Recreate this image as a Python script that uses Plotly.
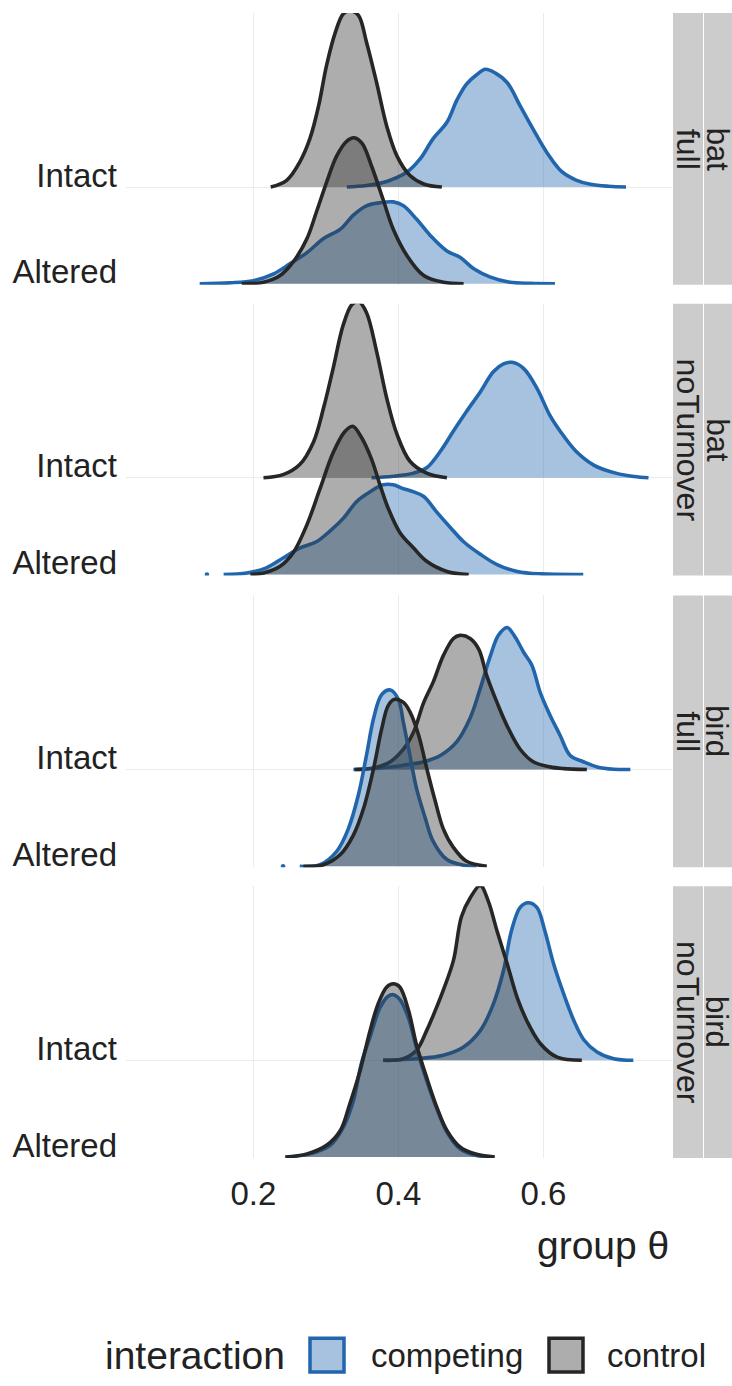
import plotly.graph_objects as go

# ---------------- data ----------------
facets = [("bat", "full"), ("bat", "noTurnover"), ("bird", "full"), ("bird", "noTurnover")]
row_labels = ["Altered", "Intact"]
groups = ["competing", "control"]
x_ticks = [0.2, 0.4, 0.6]
x_tick_text = ["0.2", "0.4", "0.6"]

# bat / full
bat_full_intact_competing_x = [0.329, 0.356, 0.384, 0.412, 0.430, 0.448, 0.467, 0.481, 0.494, 0.508, 0.520, 0.534, 0.550, 0.568, 0.586, 0.605, 0.625, 0.645, 0.665, 0.690, 0.714]
bat_full_intact_competing_d = [0, 0.1, 0.36, 0.96, 1.8, 3.1, 4.15, 5.6, 6.6, 7.2, 7.55, 7.3, 6.7, 5.2, 3.7, 2.2, 1.0, 0.45, 0.18, 0.05, 0]
bat_full_intact_control_x = [0.224, 0.246, 0.264, 0.278, 0.290, 0.301, 0.313, 0.324, 0.334, 0.345, 0.356, 0.370, 0.384, 0.398, 0.416, 0.435, 0.460]
bat_full_intact_control_d = [0, 0.43, 1.6, 3.1, 5.2, 7.8, 9.9, 11.1, 11.3, 11.0, 9.3, 6.7, 3.9, 2.0, 0.74, 0.2, 0]
bat_full_altered_competing_x = [0.126, 0.168, 0.200, 0.228, 0.251, 0.274, 0.297, 0.320, 0.338, 0.356, 0.375, 0.393, 0.407, 0.425, 0.444, 0.467, 0.485, 0.504, 0.527, 0.554, 0.582, 0.616]
bat_full_altered_competing_d = [0, 0.06, 0.2, 0.64, 1.3, 2.0, 2.9, 3.5, 4.4, 5.0, 5.2, 5.25, 5.0, 4.15, 3.1, 2.1, 1.7, 0.96, 0.43, 0.1, 0.03, 0]
bat_full_altered_control_x = [0.184, 0.214, 0.237, 0.255, 0.274, 0.287, 0.301, 0.315, 0.329, 0.339, 0.350, 0.363, 0.379, 0.393, 0.412, 0.435, 0.462, 0.490]
bat_full_altered_control_d = [0, 0.1, 0.53, 1.4, 2.9, 4.6, 6.5, 8.2, 9.15, 9.36, 9.0, 7.55, 5.4, 3.5, 1.8, 0.53, 0.1, 0]

# bat / noTurnover
bat_noT_intact_competing_x = [0.363, 0.393, 0.421, 0.439, 0.458, 0.476, 0.494, 0.513, 0.531, 0.545, 0.557, 0.573, 0.591, 0.609, 0.623, 0.645, 0.670, 0.700, 0.725, 0.745]
bat_noT_intact_competing_d = [0, 0.1, 0.3, 0.64, 1.7, 3.0, 4.25, 5.5, 6.8, 7.3, 7.4, 7.0, 5.75, 4.0, 3.0, 1.7, 0.8, 0.3, 0.08, 0]
bat_noT_intact_control_x = [0.214, 0.241, 0.264, 0.283, 0.297, 0.310, 0.324, 0.336, 0.345, 0.356, 0.370, 0.384, 0.398, 0.416, 0.439, 0.467]
bat_noT_intact_control_d = [0, 0.2, 0.85, 2.3, 4.5, 7.0, 9.8, 11.1, 11.3, 10.6, 8.1, 5.1, 2.8, 1.06, 0.3, 0]
bat_noT_altered_competing_x = [0.159, 0.191, 0.218, 0.241, 0.264, 0.287, 0.306, 0.324, 0.343, 0.361, 0.379, 0.393, 0.407, 0.421, 0.435, 0.453, 0.472, 0.490, 0.513, 0.536, 0.564, 0.596, 0.655]
bat_noT_altered_competing_d = [0, 0.1, 0.43, 1.06, 1.7, 2.1, 2.8, 3.6, 4.7, 5.3, 5.75, 5.75, 5.5, 5.3, 5.0, 4.0, 3.0, 2.1, 1.3, 0.64, 0.2, 0.04, 0]
bat_noT_altered_control_x = [0.196, 0.214, 0.237, 0.255, 0.274, 0.292, 0.310, 0.326, 0.337, 0.349, 0.363, 0.375, 0.386, 0.402, 0.421, 0.439, 0.467, 0.497]
bat_noT_altered_control_d = [0, 0.1, 0.53, 1.4, 3.2, 5.5, 7.8, 9.15, 9.5, 8.8, 7.4, 5.7, 4.25, 2.7, 1.7, 0.85, 0.2, 0]

# bird / full
bird_full_intact_competing_x = [0.338, 0.375, 0.407, 0.435, 0.458, 0.481, 0.499, 0.513, 0.527, 0.538, 0.550, 0.561, 0.573, 0.584, 0.596, 0.609, 0.623, 0.637, 0.655, 0.674, 0.697, 0.720]
bird_full_intact_competing_d = [0, 0.1, 0.28, 0.5, 0.9, 1.8, 3.3, 5.2, 7.3, 8.6, 9.1, 8.5, 7.5, 6.7, 4.9, 3.5, 2.2, 0.9, 0.5, 0.17, 0.02, 0]
bird_full_intact_control_x = [0.340, 0.366, 0.389, 0.407, 0.421, 0.435, 0.448, 0.462, 0.476, 0.485, 0.499, 0.511, 0.522, 0.536, 0.550, 0.568, 0.586, 0.609, 0.628, 0.660]
bird_full_intact_control_d = [0, 0.1, 0.5, 1.3, 2.4, 4.3, 5.6, 7.3, 8.4, 8.6, 8.4, 7.7, 6.0, 4.3, 2.8, 1.3, 0.5, 0.17, 0.06, 0]
bird_full_altered_competing_x = [0.264, 0.292, 0.315, 0.331, 0.345, 0.356, 0.366, 0.377, 0.389, 0.400, 0.407, 0.416, 0.425, 0.437, 0.448, 0.467, 0.490, 0.508]
bird_full_altered_competing_d = [0, 0.1, 0.96, 2.4, 4.6, 7.1, 9.5, 11.0, 11.3, 10.7, 9.2, 7.1, 5.0, 3.1, 1.6, 0.43, 0.06, 0]
bird_full_altered_control_x = [0.269, 0.297, 0.320, 0.338, 0.352, 0.366, 0.377, 0.386, 0.395, 0.407, 0.416, 0.428, 0.439, 0.451, 0.462, 0.476, 0.494, 0.522]
bird_full_altered_control_d = [0, 0.1, 0.75, 2.0, 3.7, 6.3, 8.8, 10.3, 10.7, 10.5, 9.9, 8.4, 6.3, 4.15, 2.4, 1.2, 0.32, 0]

# bird / noTurnover
bird_noT_intact_competing_x = [0.379, 0.425, 0.462, 0.490, 0.513, 0.531, 0.545, 0.556, 0.568, 0.579, 0.591, 0.602, 0.614, 0.628, 0.642, 0.656, 0.674, 0.697, 0.724]
bird_noT_intact_competing_d = [0, 0.1, 0.32, 0.85, 1.9, 3.6, 5.75, 8.3, 9.8, 10.1, 9.8, 8.3, 6.2, 4.25, 2.55, 1.3, 0.53, 0.1, 0]
bird_noT_intact_control_x = [0.379, 0.407, 0.425, 0.439, 0.451, 0.462, 0.476, 0.487, 0.499, 0.513, 0.524, 0.536, 0.550, 0.564, 0.577, 0.596, 0.619, 0.653]
bird_noT_intact_control_d = [0, 0.1, 0.64, 1.9, 3.2, 4.5, 6.4, 9.2, 10.4, 11.2, 10.2, 8.3, 6.2, 4.0, 2.55, 1.06, 0.2, 0]
bird_noT_altered_competing_x = [0.248, 0.278, 0.306, 0.324, 0.338, 0.349, 0.361, 0.375, 0.386, 0.393, 0.402, 0.414, 0.425, 0.439, 0.453, 0.467, 0.485, 0.508, 0.526]
bird_noT_altered_competing_d = [0, 0.2, 0.75, 1.9, 3.6, 6.0, 7.7, 9.6, 10.3, 10.4, 10.1, 8.9, 7.0, 4.9, 3.1, 1.6, 0.53, 0.1, 0]
bird_noT_altered_control_x = [0.244, 0.274, 0.301, 0.320, 0.333, 0.347, 0.361, 0.372, 0.384, 0.393, 0.402, 0.414, 0.425, 0.439, 0.453, 0.467, 0.485, 0.508, 0.533]
bird_noT_altered_control_d = [0, 0.2, 0.75, 1.7, 3.4, 5.5, 8.1, 9.8, 10.9, 11.1, 10.9, 9.4, 7.2, 5.1, 3.2, 1.7, 0.64, 0.17, 0]

# isolated tail fragments of the competing / Altered densities
tail_dot_x = {1: 0.136, 2: 0.241}

curves = [
    {("Intact", "competing"): (bat_full_intact_competing_x, bat_full_intact_competing_d),
     ("Intact", "control"): (bat_full_intact_control_x, bat_full_intact_control_d),
     ("Altered", "competing"): (bat_full_altered_competing_x, bat_full_altered_competing_d),
     ("Altered", "control"): (bat_full_altered_control_x, bat_full_altered_control_d)},
    {("Intact", "competing"): (bat_noT_intact_competing_x, bat_noT_intact_competing_d),
     ("Intact", "control"): (bat_noT_intact_control_x, bat_noT_intact_control_d),
     ("Altered", "competing"): (bat_noT_altered_competing_x, bat_noT_altered_competing_d),
     ("Altered", "control"): (bat_noT_altered_control_x, bat_noT_altered_control_d)},
    {("Intact", "competing"): (bird_full_intact_competing_x, bird_full_intact_competing_d),
     ("Intact", "control"): (bird_full_intact_control_x, bird_full_intact_control_d),
     ("Altered", "competing"): (bird_full_altered_competing_x, bird_full_altered_competing_d),
     ("Altered", "control"): (bird_full_altered_control_x, bird_full_altered_control_d)},
    {("Intact", "competing"): (bird_noT_intact_competing_x, bird_noT_intact_competing_d),
     ("Intact", "control"): (bird_noT_intact_control_x, bird_noT_intact_control_d),
     ("Altered", "competing"): (bird_noT_altered_competing_x, bird_noT_altered_competing_d),
     ("Altered", "control"): (bird_noT_altered_control_x, bird_noT_altered_control_d)},
]

# ---------------- styling / layout ----------------
W, H = 732, 1386
FONT = "Liberation Sans, Arial, Helvetica, sans-serif"
TXT = "#222222"
LINE = {"competing": "#2166AC", "control": "#262626"}
FILL = {"competing": "rgba(33,102,172,0.40)", "control": "rgba(51,51,51,0.40)"}
LW = 3.6
PANEL_TOPS = [13, 305, 598, 890]
PANEL_H = 273
X_DOM = [126 / W, 672 / W]
X_RANGE = [0.0244, 0.7774]
Y_RANGE = [0.99, 3.80]
DENS_TO_ROW = 0.1613
ROW_POS = {"Altered": 1, "Intact": 2}

fig = go.Figure()
layout = dict(
    width=W, height=H, autosize=False,
    margin=dict(l=0, r=0, t=0, b=0),
    paper_bgcolor="white", plot_bgcolor="white",
    showlegend=False,
    font=dict(family=FONT, color=TXT),
)

for i, (taxon, model) in enumerate(facets):
    ax = "" if i == 0 else str(i + 1)
    for row in ["Intact", "Altered"]:
        base = ROW_POS[row]
        for g in groups:
            xs, ds = curves[i][(row, g)]
            ys = [base + d * DENS_TO_ROW for d in ds]
            fig.add_trace(go.Scatter(
                x=xs, y=ys, xaxis="x" + ax, yaxis="y" + ax,
                mode="lines", fill="toself", fillcolor=FILL[g],
                line=dict(color=LINE[g], width=LW, shape="spline", smoothing=1.0),
                hoverinfo="skip"))
    if i in tail_dot_x:
        fig.add_trace(go.Scatter(
            x=[tail_dot_x[i]], y=[ROW_POS["Altered"]], xaxis="x" + ax, yaxis="y" + ax,
            mode="markers", marker=dict(color=LINE["competing"], size=4.5),
            hoverinfo="skip"))

    top = PANEL_TOPS[i]
    layout["xaxis" + ax] = dict(
        domain=X_DOM, range=X_RANGE, anchor="y" + ax,
        tickvals=x_ticks, ticktext=x_tick_text,
        showgrid=True, gridcolor="#EBEBEB", gridwidth=1.2,
        zeroline=False, showline=False, ticks="",
        showticklabels=(i == len(facets) - 1),
        tickfont=dict(size=33, color=TXT, family=FONT),
        ticklabelstandoff=13,
    )
    layout["yaxis" + ax] = dict(
        domain=[1 - (top + PANEL_H) / H, 1 - top / H], range=Y_RANGE, anchor="x" + ax,
        tickvals=[ROW_POS[r] for r in row_labels], ticktext=row_labels,
        showgrid=True, gridcolor="#EBEBEB", gridwidth=1.2,
        zeroline=False, showline=False, ticks="",
        tickfont=dict(size=33, color=TXT, family=FONT),
        ticklabelshift=-12, ticklabelstandoff=8,
    )

shapes = []
annotations = []
for i, (taxon, model) in enumerate(facets):
    top = PANEL_TOPS[i]
    y0, y1 = 1 - (top + PANEL_H) / H, 1 - top / H
    shapes.append(dict(type="rect", xref="paper", yref="paper", x0=673 / W, x1=703 / W,
                       y0=y0, y1=y1, fillcolor="#CCCCCC", line=dict(width=0), layer="below"))
    shapes.append(dict(type="rect", xref="paper", yref="paper", x0=704 / W, x1=1.0,
                       y0=y0, y1=y1, fillcolor="#CCCCCC", line=dict(width=0), layer="below"))
    yc = (y0 + y1) / 2
    annotations.append(dict(text=model, x=688 / W, y=yc, xref="paper", yref="paper",
                            textangle=90, showarrow=False, xanchor="center", yanchor="middle",
                            font=dict(size=32, color=TXT, family=FONT)))
    annotations.append(dict(text=taxon, x=717 / W, y=yc, xref="paper", yref="paper",
                            textangle=90, showarrow=False, xanchor="center", yanchor="middle",
                            font=dict(size=31, color=TXT, family=FONT)))

# axis title
annotations.append(dict(text="group θ", x=671 / W, y=1 - 1251 / H, xref="paper", yref="paper",
                        xanchor="right", yanchor="middle", showarrow=False,
                        font=dict(size=39, color=TXT, family=FONT)))

# legend (drawn manually, ggplot-style bottom legend)
LEG_Y = 1361
annotations.append(dict(text="interaction", x=103 / W, y=1 - LEG_Y / H, xref="paper", yref="paper",
                        xanchor="left", yanchor="middle", showarrow=False,
                        font=dict(size=39, color=TXT, family=FONT)))
for g, kx0, tx in [("competing", 308, 369), ("control", 547, 605)]:
    shapes.append(dict(type="rect", xref="paper", yref="paper",
                       x0=(kx0 + 2) / W, x1=(kx0 + 36) / W,
                       y0=1 - (LEG_Y + 17) / H, y1=1 - (LEG_Y - 17) / H,
                       fillcolor=FILL[g], line=dict(color=LINE[g], width=3.5)))
    annotations.append(dict(text=g, x=tx / W, y=1 - LEG_Y / H, xref="paper", yref="paper",
                            xanchor="left", yanchor="middle", showarrow=False,
                            font=dict(size=33, color=TXT, family=FONT)))

layout["shapes"] = shapes
layout["annotations"] = annotations
fig.update_layout(**layout)
fig.write_html(
    "out.html",
    config={"displayModeBar": False},
    post_script="document.body.style.margin='0';document.body.style.overflow='hidden';",
)
